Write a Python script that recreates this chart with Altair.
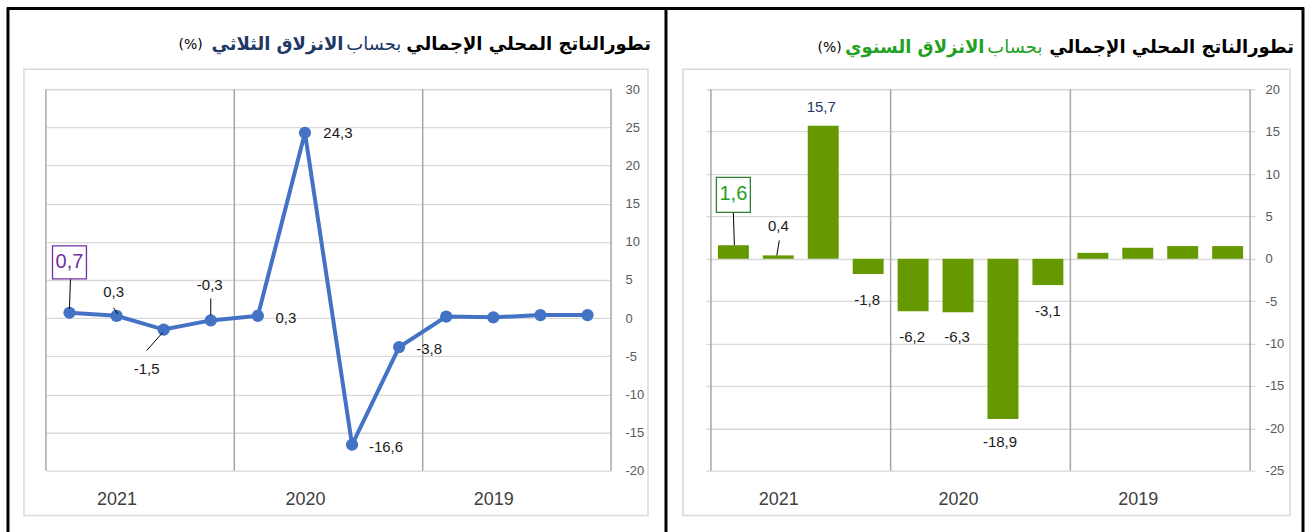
import altair as alt
import pandas as pd

# ---------------- data ----------------
years = ["2021", "2020", "2019"]
slots = list(range(12))                     # 4 quarters per year, drawn right-to-left in time
qoq = [0.7, 0.3, -1.5, -0.3, 0.3, 24.3, -16.6, -3.8, 0.2, 0.1, 0.4, 0.4]
yoy = [1.6, 0.4, 15.7, -1.8, -6.2, -6.3, -18.9, -3.1, 0.7, 1.3, 1.5, 1.5]
left_ticks = [-20, -15, -10, -5, 0, 5, 10, 15, 20, 25, 30]
right_ticks = [-25, -20, -15, -10, -5, 0, 5, 10, 15, 20]
year_slots = [1, 5, 9]
separators = [-0.5, 3.5, 7.5, 11.5]

title_main = "تطورالناتج المحلي الإجمالي"
title_by = "بحساب"
title_left_kind = "الانزلاق الثلاثي"
title_right_kind = "الانزلاق السنوي"
title_pct = "(%)"


def fmt(v):
    return f"{v:.1f}".replace(".", ",")


df_left = pd.DataFrame({"i": slots, "v": qoq, "lbl": [fmt(v) for v in qoq]})
df_right = pd.DataFrame({"i": slots, "v": yoy, "lbl": [fmt(v) for v in yoy]})
df_sep = pd.DataFrame({"i": separators})
one = pd.DataFrame({"k": [0]})

AR_FONT = "DejaVu Sans"
NUM_FONT = "Liberation Sans"
YEAR_FONT = "Liberation Sans"
GRID = "#d9d9d9"
SEP = "#a6a6a6"
TICK_LBL = "#595959"
LBL = "#1a1a1a"

year_expr = "[" + ",".join(f"'{y}'" for y in years) + "][(datum.value-1)/4]"
tick_expr = "replace(toString(datum.value), '.', ',')"

xscale = alt.Scale(domain=[-0.5, 11.5], nice=False, zero=False)
xaxis = alt.Axis(values=year_slots, labelExpr=year_expr, grid=False,
                 domain=False, ticks=False, title=None,
                 labelFont=YEAR_FONT, labelFontSize=18,
                 labelColor="#404040", labelPadding=20)


def make_base(df, ydomain, yticks, label_pad):
    return alt.Chart(df).encode(
        x=alt.X("i:Q", scale=xscale, axis=xaxis),
        y=alt.Y("v:Q", scale=alt.Scale(domain=ydomain, nice=False, zero=False),
                axis=alt.Axis(orient="right", values=yticks, grid=True,
                              gridColor=GRID, gridWidth=1.3, domain=False,
                              ticks=False, title=None, labelFont=NUM_FONT,
                              labelFontSize=13, labelColor=TICK_LBL,
                              labelAlign="left", labelPadding=label_pad,
                              labelExpr=tick_expr)),
    )


def sep_layer(H):
    return alt.Chart(df_sep).mark_rule(color=SEP, strokeWidth=1.5).encode(
        x=alt.X("i:Q", scale=xscale, axis=xaxis),
        y=alt.value(0), y2=alt.value(H))


def deco_rule(x, y, x2=None, y2=None, color="black", w=3):
    enc = dict(x=alt.value(x), y=alt.value(y))
    if x2 is not None:
        enc["x2"] = alt.value(x2)
    if y2 is not None:
        enc["y2"] = alt.value(y2)
    return alt.Chart(one).mark_rule(color=color, strokeWidth=w).encode(**enc)


def deco_box(x, y, x2, y2):
    return alt.Chart(one).mark_rect(fillOpacity=0, stroke=GRID, strokeWidth=1.5).encode(
        x=alt.value(x), x2=alt.value(x2), y=alt.value(y), y2=alt.value(y2))


def title_seg(text, x, y, color, bold, size):
    return alt.Chart(one).mark_text(
        text=text, align="right", baseline="middle", font=AR_FONT,
        fontSize=size, fontWeight="bold" if bold else "normal", color=color
    ).encode(x=alt.value(x), y=alt.value(y))


def label(base, k, dx=0, dy=0, color=LBL, size=15):
    return base.transform_filter(alt.datum.i == k).mark_text(
        dx=dx, dy=dy, font=NUM_FONT, fontSize=size, color=color, baseline="middle"
    ).encode(text="lbl:N")


def leader(base, k, x1, y1, x2, y2):
    return base.transform_filter(alt.datum.i == k).mark_rule(
        color="black", strokeWidth=1, xOffset=x1, yOffset=y1, x2Offset=x2, y2Offset=y2
    ).encode(x2=alt.X2("i"), y2=alt.Y2("v"))


def box(base, k, x1, x2, y1, y2, color):
    return base.transform_filter(alt.datum.i == k).mark_rect(
        fill="white", stroke=color, strokeWidth=1.3,
        xOffset=x1, x2Offset=x2, yOffset=y1, y2Offset=y2
    ).encode(x2=alt.X2("i"), y2=alt.Y2("v"))


# ---------------- left panel (quarterly) ----------------
LW, LH = 566, 382
lb = make_base(df_left, [-20, 30], left_ticks, 14)
BLUE = "#4472C4"
PURPLE = "#7030A0"
NAVY = "#203864"
TS = 18

left = alt.layer(
    # full-page frame (defines the page bounds)
    alt.Chart(one).mark_rect(fillOpacity=0, opacity=0).encode(
        x=alt.value(-45), x2=alt.value(1262), y=alt.value(-88), y2=alt.value(444)),
    deco_rule(-39, -81, x2=1260),
    deco_rule(-38, -82, y2=444),
    deco_rule(621, -82, y2=444),
    deco_rule(1259, -82, y2=444),
    deco_box(-22, -20, 603, 427),
    sep_layer(LH),
    lb.mark_line(color=BLUE, strokeWidth=4),
    lb.mark_circle(size=150, color=BLUE, opacity=1),
    leader(lb, 0, 1, -34, 0, -4),
    box(lb, 0, -17, 17, -67, -34, PURPLE),
    label(lb, 0, 0, -51, PURPLE, 20),
    leader(lb, 1, -3, -8, 1, -2),
    label(lb, 1, -3, -24),
    leader(lb, 2, -17, 21, -1, 3),
    label(lb, 2, -17, 40),
    leader(lb, 3, 0, -22, 0, -5),
    label(lb, 3, -1, -35),
    label(lb, 4, 28, 2),
    label(lb, 5, 33, 0),
    label(lb, 6, 34, 2),
    label(lb, 7, 30, 2),
    title_seg(title_main, 606, -44, "black", True, TS),
    title_seg(title_by, 356, -44, NAVY, False, TS),
    title_seg(title_left_kind, 298, -44, NAVY, True, TS),
    title_seg(title_pct, 157, -44, "black", False, 14),
).properties(width=LW, height=LH)

# ---------------- right panel (annual) ----------------
RW, RH = 550, 382
rb = make_base(df_right, [-25, 20], right_ticks, 10)
GREEN_BAR = "#669900"
GREEN_TXT = "#22A022"
GREEN_BOX = "#2E7D32"

right = alt.layer(
    deco_box(-23, -20, 585, 427),
    sep_layer(RH),
    rb.mark_bar(size=31, color=GREEN_BAR),
    leader(rb, 0, 0, -33, 1, 0),
    box(rb, 0, -17, 17, -68, -33, GREEN_BOX),
    label(rb, 0, 0, -51, GREEN_TXT, 20),
    leader(rb, 1, 1, -15, -1.5, 0),
    label(rb, 1, 0, -29),
    label(rb, 2, -2, -19, NAVY, 15),
    label(rb, 3, -1, 26),
    label(rb, 4, -1, 26),
    label(rb, 5, -1, 25),
    label(rb, 6, -3, 23),
    label(rb, 7, 0, 26),
    title_seg(title_main, 589, -41, "black", True, TS),
    title_seg(title_by, 337, -41, GREEN_TXT, False, TS),
    title_seg(title_right_kind, 279, -41, GREEN_TXT, True, TS),
    title_seg(title_pct, 136, -41, "black", False, 14),
).properties(width=RW, height=RH)

chart = alt.hconcat(left, right, spacing=95, bounds="flush").properties(
    padding=0, background="white"
).configure_view(stroke="transparent")

chart.save("out.html", embed_options={"renderer": "svg", "actions": False})
